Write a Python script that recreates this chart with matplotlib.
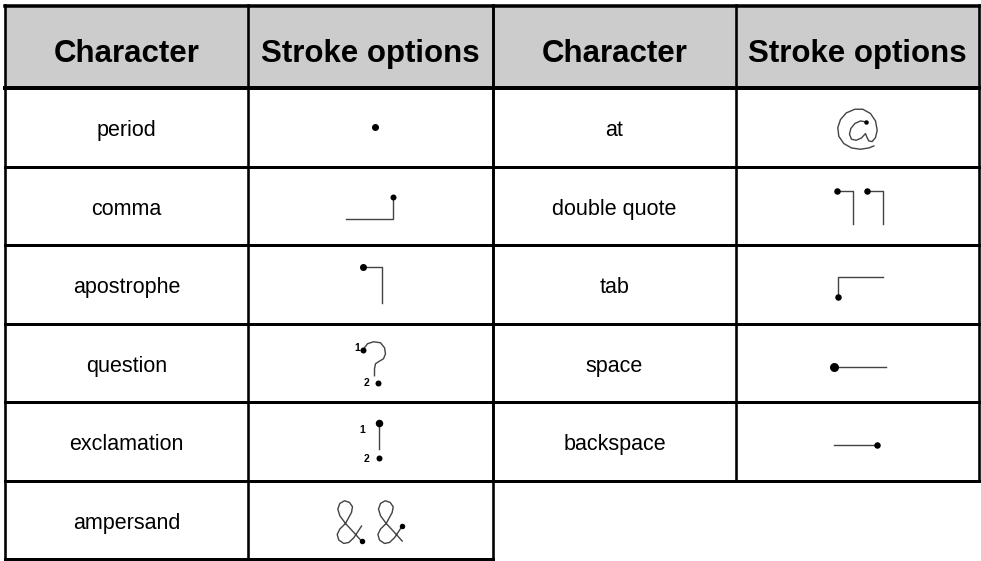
import matplotlib
matplotlib.use("Agg")
import matplotlib.pyplot as plt

# table content
headers = ["Character", "Stroke options", "Character", "Stroke options"]
left_chars = ["period", "comma", "apostrophe", "question", "exclamation", "ampersand"]
right_chars = ["at", "double quote", "tab", "space", "backspace"]

# stroke shapes, offsets in px from the stroke cell centre: (lines, dots, labels)
amp_a = [(-9, 21.3), (-16.7, 12.7), (-25, 3.7), (-30.7, -4), (-32.7, -10.7), (-30.7, -16.3),
         (-26, -19), (-21, -17.3), (-18, -13), (-19, -7.3), (-25, 3.7), (-30.7, 9.3),
         (-33.3, 14.7), (-31.7, 20.3), (-26.7, 23.7), (-21.7, 22.7), (-16.7, 18), (-12.7, 12),
         (-9, 6.3)]
amp_b = [(x + 40.7, y) for x, y in amp_a]
at_path = [(8.7, -5.3), (3, -6.3), (-2.7, -3.7), (-6.7, 1.3), (-8, 7), (-6, 12), (-1.3, 13),
           (4, 10.7), (8, 6.3), (9.3, 9.7), (11.3, 13.7), (14.7, 14.3), (18, 10.3), (19.7, 3),
           (18, -6.3), (13, -13.7), (5.3, -18), (-2.7, -18), (-11.3, -14.3), (-17, -7.7),
           (-19.7, 0.3), (-18.7, 9), (-13.7, 16.3), (-6, 20.7), (3, 22), (11.3, 20.7), (16.3, 18.7)]
question_path = [(-6, -15), (-3, -19), (3, -21), (10, -20), (14, -15), (15, -9), (13, -4),
                 (8, -1), (5, 1), (4, 6), (4, 13)]

strokes = {
    "period": ([], [(4, 0, 7)], []),
    "comma": ([[(-25, 13), (22, 13), (22, -9)]], [(22, -9, 6)], []),
    "apostrophe": ([[(-8, -17), (11, -17), (11, 19)]], [(-8, -17, 7)], []),
    "question": ([question_path], [(-8, -13, 6), (7, 20, 6)],
                 [(-13, -15, "1"), (-4, 20, "2")]),
    "exclamation": ([[(8, -18), (8, 8)]], [(8, -18, 7.5), (8, 17, 6)],
                    [(-8, -11, "1"), (-4, 18, "2")]),
    "ampersand": ([amp_a, amp_b], [(-9, 21.3, 5.5), (31.7, 6.3, 5.5)], []),
    "at": ([at_path], [(8.7, -5.3, 4.5)], []),
    "double quote": ([[(-21, -15), (-5, -15), (-5, 18)], [(9, -15), (25, -15), (25, 18)]],
                     [(-21, -15, 6.5), (9, -15, 6.5)], []),
    "tab": ([[(-20, 13), (-20, -7), (25, -7)]], [(-20, 13, 6.5)], []),
    "space": ([[(-24, 4), (28, 4)]], [(-24, 4, 9)], []),
    "backspace": ([[(-24, 4), (19, 4)]], [(19, 4, 6.5)], []),
}

# layout in pixels
col_x = [5, 248, 493, 736, 979]
top, head_bot = 5, 88
row_h = 78.5
PT = 0.72  # points per pixel at dpi 100

fig = plt.figure(figsize=(9.81, 5.61), dpi=100)
ax = fig.add_axes([0, 0, 1, 1])
ax.set_xlim(0, 981)
ax.set_ylim(561, 0)
ax.axis("off")

font_body = ["Liberation Sans", "DejaVu Sans"]

# header band
ax.fill_between([col_x[0], col_x[-1]], top, head_bot, color="#cccccc", zorder=0)
for i, h in enumerate(headers):
    cx = (col_x[i] + col_x[i + 1]) / 2
    ax.text(cx, 62, h, ha="center", va="baseline", fontsize=22.5, fontweight="bold",
            family=font_body)

def draw_table(chars, x0, xm, x1):
    n = len(chars)
    bottom = head_bot + row_h * n
    for k in range(1, n + 1):
        y = head_bot + row_h * k
        ax.plot([x0, x1], [y, y], color="black", lw=3 * PT, solid_capstyle="projecting")
    for x in (x0, xm, x1):
        ax.plot([x, x], [top, bottom], color="black", lw=2.6 * PT, solid_capstyle="projecting")
    for k, c in enumerate(chars):
        cy = head_bot + row_h * k + row_h / 2
        ax.text((x0 + xm) / 2, cy + 9, c, ha="center", va="baseline", fontsize=15.5,
                family=font_body)
        sx = (xm + x1) / 2
        lines, dots, labels = strokes[c]
        for ln in lines:
            ax.plot([sx + p[0] for p in ln], [cy + p[1] for p in ln], color="#444444",
                    lw=1.4 * PT, solid_joinstyle="round")
        for dx, dy, d in dots:
            ax.plot(sx + dx, cy + dy, "o", color="black", markersize=d * PT, mew=0)
        for dx, dy, t in labels:
            ax.text(sx + dx, cy + dy, t, ha="center", va="center", fontsize=7.5,
                    fontweight="bold", family=["Liberation Sans", "DejaVu Sans"])

draw_table(left_chars, col_x[0], col_x[1], col_x[2])
draw_table(right_chars, col_x[2], col_x[3], col_x[4])

# top border and header rule
ax.plot([col_x[0], col_x[-1]], [top + 1, top + 1], color="black", lw=3.5 * PT,
        solid_capstyle="projecting")
ax.plot([col_x[0], col_x[-1]], [head_bot, head_bot], color="black", lw=4 * PT,
        solid_capstyle="projecting")

fig.savefig("out.png", dpi=100)
